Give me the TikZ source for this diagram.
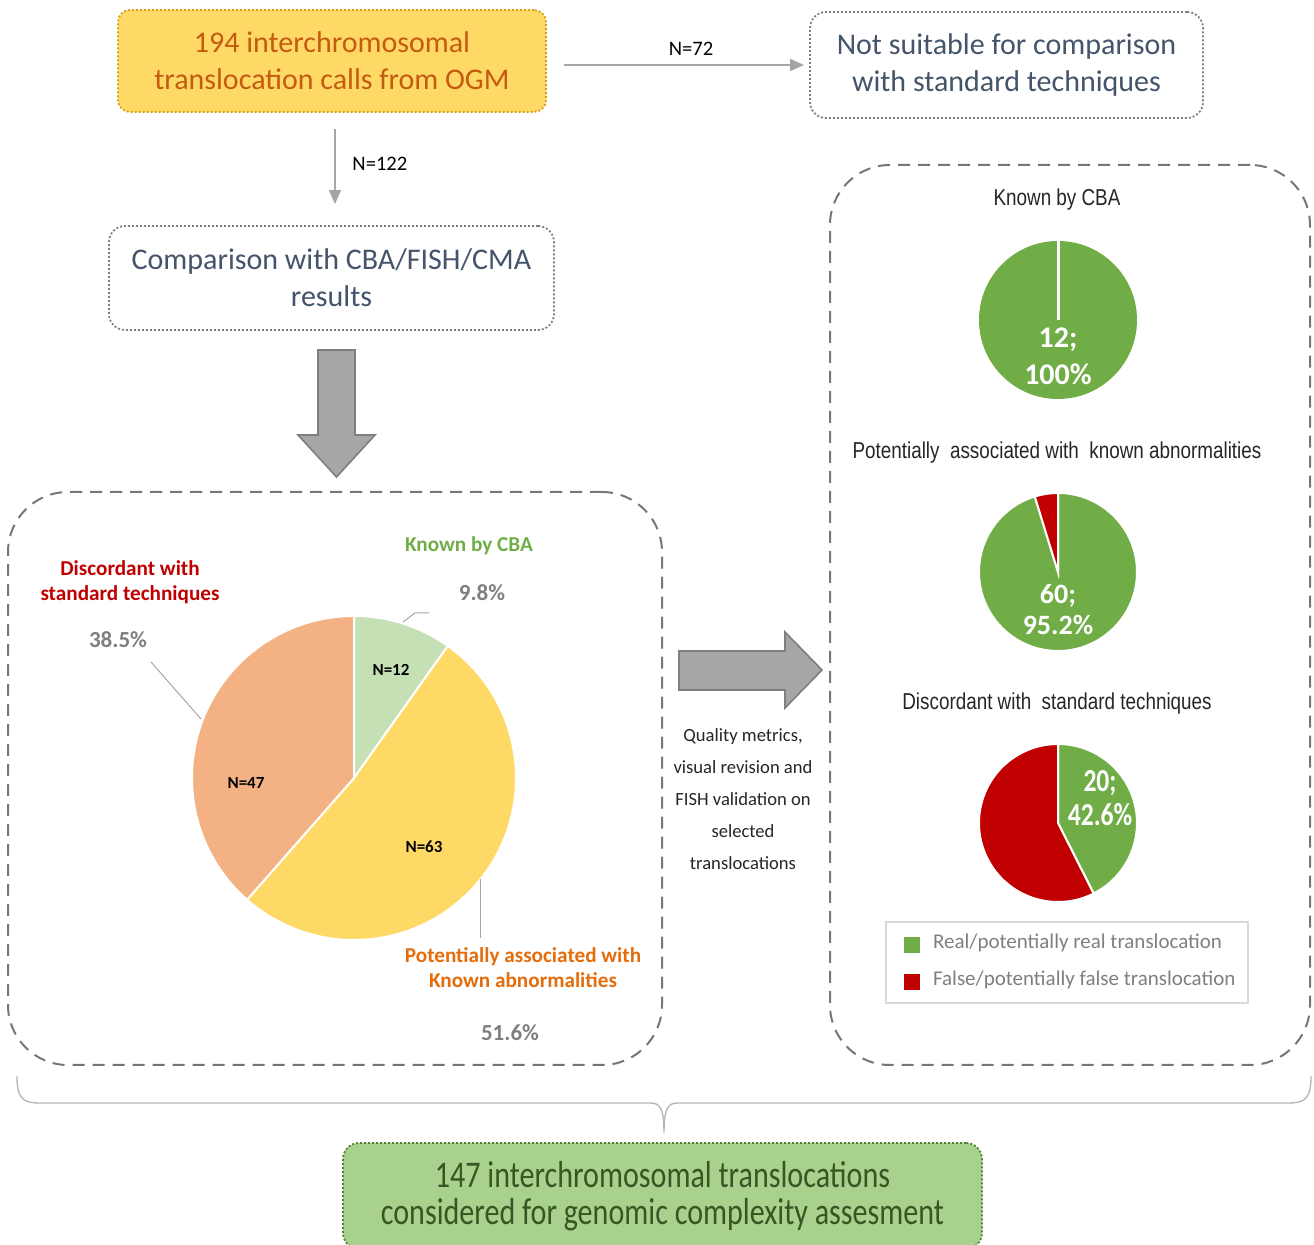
\documentclass[tikz,border=0pt]{standalone}
\usepackage{fontspec}
\setmainfont{Carlito}
\newfontfamily\narrowfont{Liberation Sans}[FakeStretch=0.82]
\newfontfamily\condfont{Carlito}[FakeStretch=0.8]
\usepackage{tikz}
\usetikzlibrary{arrows.meta, positioning, calc}
\definecolor{ogmgold}{RGB}{255, 217, 102}
\definecolor{ogmedge}{RGB}{214, 160, 20}
\definecolor{ogmtext}{RGB}{197, 90, 17}
\definecolor{slate}{RGB}{68, 84, 106}
\definecolor{boxgrey}{RGB}{127, 127, 127}
\definecolor{arrowgrey}{RGB}{166, 166, 166}
\definecolor{blockgrey}{RGB}{166, 166, 166}
\definecolor{blockedge}{RGB}{127, 127, 127}
\definecolor{panelgrey}{RGB}{118, 118, 118}
\definecolor{knowngreen}{RGB}{197, 224, 180}
\definecolor{potyellow}{RGB}{255, 217, 102}
\definecolor{discorange}{RGB}{244, 177, 131}
\definecolor{lblred}{RGB}{192, 0, 0}
\definecolor{lblgreen}{RGB}{112, 173, 71}
\definecolor{lblorange}{RGB}{228, 108, 10}
\definecolor{realgreen}{RGB}{112, 173, 71}
\definecolor{falsered}{RGB}{192, 0, 0}
\definecolor{endfill}{RGB}{169, 209, 142}
\definecolor{endedge}{RGB}{84, 130, 53}
\definecolor{endtext}{RGB}{55, 86, 35}
\tikzset{
  >=Stealth,
  flowarrow/.style={-{Triangle[length=7pt, width=6pt]}, line width=0.8pt, arrowgrey},
  leaderline/.style={line width=0.5pt, arrowgrey},
  bracestyle/.style={line width=0.7pt, arrowgrey!80},
  blockarrow/.style={draw=blockedge, fill=blockgrey, line width=0.8pt, line join=miter},
  dashpanel/.style={rectangle, draw=panelgrey, dash pattern=on 6pt off 4pt, line width=1pt, rounded corners=30pt},
  piesep/.style={draw=white, line width=1pt}
}

\begin{document}
\begin{tikzpicture}[x=0.5pt, y=0.5pt,
    ogmbox/.style={rectangle, draw=ogmedge, fill=ogmgold, rounded corners=6pt, dash pattern=on 1pt off 1pt, line width=0.9pt, align=center, font=\fontsize{15}{18.5}\selectfont, text=ogmtext, minimum width=214pt, minimum height=51pt},
    greybox/.style={rectangle, draw=boxgrey, fill=white, rounded corners=8pt, dash pattern=on 1pt off 1pt, line width=0.9pt, align=center, font=\fontsize{15}{18.5}\selectfont, text=slate},
    endbox/.style={rectangle, draw=endedge, fill=endfill, rounded corners=8pt, dash pattern=on 1pt off 1pt, line width=0.9pt, align=center, font=\condfont\fontsize{18.8}{18.5}\selectfont, text=endtext, minimum width=319.5pt, minimum height=53pt},
    nlabel/.style={font=\fontsize{10.3}{11}\selectfont, text=black},
    catlbl/.style={font=\bfseries\fontsize{10.6}{12.5}\selectfont, align=center},
    pctlbl/.style={font=\bfseries\fontsize{11.5}{12}\selectfont, text=boxgrey},
    slicelbl/.style={font=\bfseries\fontsize{8.5}{10}\selectfont, text=black},
    charttitle/.style={font=\narrowfont\fontsize{11.5}{13}\selectfont, text=black!85},
    pietext/.style={font=\bfseries\fontsize{14.5}{18}\selectfont, text=white, align=center},
    legendtxt/.style={font=\fontsize{10.5}{11}\selectfont, text=boxgrey, anchor=west},
    notetext/.style={font=\fontsize{9.3}{16}\selectfont, text=black!85, align=center}
]
    \useasboundingbox (0,0) rectangle (1314,-1245);

    % Top row: OGM calls and excluded calls
    \node[ogmbox] (ogm) at (332,-61) {194 interchromosomal\\translocation calls from OGM};
    \node[greybox, minimum width=196.5pt, minimum height=53pt] (notsuit) at (1006.5,-65) {Not suitable for comparison\\with standard techniques};
    \node[greybox, minimum width=222.5pt, minimum height=52pt] (compar) at (331.5,-278) {Comparison with CBA/FISH/CMA\\results};

    \draw[flowarrow, shorten <=8.5pt, shorten >=2.5pt] (ogm.east |- notsuit.west) -- (notsuit.west) node[nlabel, pos=0.55, above=1pt] {N=72};
    \draw[flowarrow, shorten <=8pt, shorten >=10.5pt] ([xshift=1.5pt]ogm.south) -- ([xshift=1.5pt]ogm.south |- compar.north) node[nlabel, pos=0.45, right=5pt] {N=122};

    % Block arrows
    \draw[blockarrow] (318,-350) -- (355,-350) -- (355,-435) -- (375,-435) -- (336.5,-477) -- (298,-435) -- (318,-435) -- cycle;
    \draw[blockarrow] (679,-651) -- (785,-651) -- (785,-632) -- (822,-670) -- (785,-708) -- (785,-690) -- (679,-690) -- cycle;

    % Panels
    \node[dashpanel, minimum width=327pt, minimum height=286.5pt] (leftpanel) at (335,-778.5) {};
    \node[dashpanel, minimum width=240pt, minimum height=450pt] (rightpanel) at (1070,-615) {};

    % Left pie: 12 / 63 / 47 of 122
    \coordinate (pieL) at (354,-778);
    \filldraw[piesep, fill=knowngreen] (pieL) -- +(90:162) arc[start angle=90, end angle=54.6, radius=162] -- cycle;
    \filldraw[piesep, fill=potyellow] (pieL) -- +(54.6:162) arc[start angle=54.6, end angle=-131.3, radius=162] -- cycle;
    \filldraw[piesep, fill=discorange] (pieL) -- +(-131.3:162) arc[start angle=-131.3, end angle=-270, radius=162] -- cycle;

    \node[slicelbl] (n12) at (391,-670) {N=12};
    \node[slicelbl] (n47) at (246,-783) {N=47};
    \node[slicelbl] (n63) at (424,-847) {N=63};

    \node[catlbl, text=lblred] (disclbl) at (130,-582) {Discordant with\\standard techniques};
    \node[pctlbl] (discpct) at (118,-640) {38.5\%};
    \node[catlbl, text=lblgreen] (knownlbl) at (469,-546) {Known by CBA};
    \node[pctlbl] (knownpct) at (482,-593) {9.8\%};
    \node[catlbl, text=lblorange] (potlbl) at (523,-968) {Potentially associated with\\Known abnormalities};
    \node[pctlbl] (potpct) at (510,-1033) {51.6\%};

    \draw[leaderline] (403,-622) -- (415,-613) -- (429,-613);
    \draw[leaderline] (151,-662) -- (201,-719);
    \draw[leaderline] (480,-879) -- (480,-938);

    % Middle note
    \node[notetext] (note) at (743,-799) {Quality metrics,\\visual revision and\\FISH validation on\\selected\\translocations};

    % Right panel pies
    \node[charttitle] (t1) at (1057,-200) {Known by CBA};
    \coordinate (pie1) at (1058,-320);
    \fill[realgreen] (pie1) circle[radius=79];
    \draw[white, line width=1.5pt] (pie1) -- +(90:79);
    \node[pietext, font=\bfseries\fontsize{15}{18.5}\selectfont] (p1txt) at (1058,-356) {12;\\100\%};

    \node[charttitle] (t2) at (1057,-453) {Potentially~ associated with~ known abnormalities};
    \coordinate (pie2) at (1058,-572);
    \filldraw[piesep, fill=realgreen] (pie2) -- +(90:79) arc[start angle=90, end angle=-252.9, radius=79] -- cycle;
    \filldraw[piesep, fill=falsered] (pie2) -- +(107.1:79) arc[start angle=107.1, end angle=90, radius=79] -- cycle;
    \node[pietext, font=\bfseries\fontsize{14}{15.5}\selectfont] (p2txt) at (1058,-609.5) {60;\\95.2\%};

    \node[charttitle] (t3) at (1057,-704) {Discordant with~ standard techniques};
    \coordinate (pie3) at (1058,-823);
    \filldraw[piesep, fill=realgreen] (pie3) -- +(90:79) arc[start angle=90, end angle=-63.2, radius=79] -- cycle;
    \filldraw[piesep, fill=falsered] (pie3) -- +(-63.2:79) arc[start angle=-63.2, end angle=-270, radius=79] -- cycle;
    \node[pietext, font=\condfont\bfseries\fontsize{16}{17}\selectfont] (p3txt) at (1100,-798) {20;\\42.6\%};

    % Legend
    \node[rectangle, draw=black!15, line width=0.6pt, minimum width=181pt, minimum height=40.5pt] (legend) at (1067,-962.5) {};
    \fill[realgreen] (904,-937) rectangle (920,-953);
    \fill[falsered] (904,-974) rectangle (920,-990);
    \node[legendtxt] (lgreal) at (926,-943) {Real/potentially real translocation};
    \node[legendtxt] (lgfalse) at (926,-980) {False/potentially false translocation};

    % Brace and final box
    \coordinate (braceL) at (17,-1076);
    \coordinate (braceR) at (1311,-1076);
    \coordinate (braceTip) at (664,-1133);
    \draw[bracestyle] (braceL) .. controls (17,-1098) and (22,-1103) .. (40,-1103) -- (650,-1103) .. controls (660,-1103) and (664,-1108) .. (braceTip) .. controls (664,-1108) and (668,-1103) .. (678,-1103) -- (1288,-1103) .. controls (1306,-1103) and (1311,-1098) .. (braceR);

    \node[endbox] (final) at (662.5,-1196) {147 interchromosomal translocations\\considered for genomic complexity assesment};
\end{tikzpicture}
\end{document}
